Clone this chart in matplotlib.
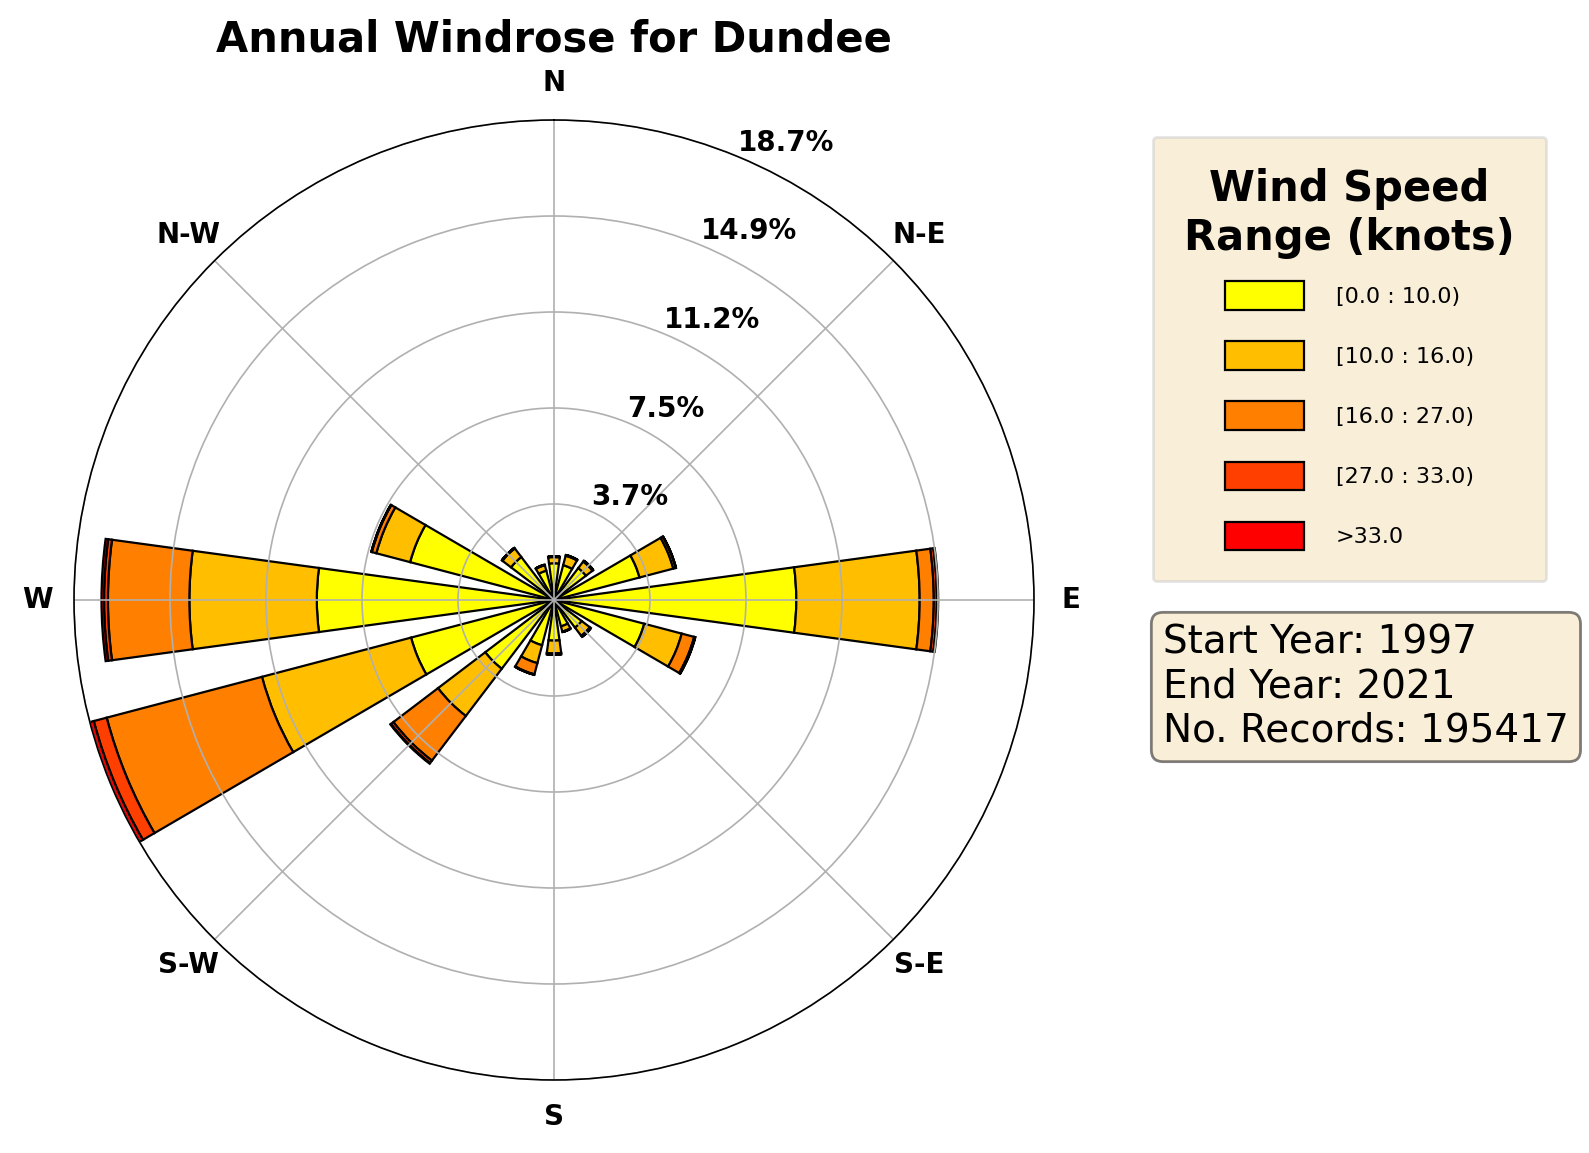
import numpy as np
import matplotlib
matplotlib.use("Agg")
import matplotlib.pyplot as plt

# wind direction sectors (compass degrees) and share of records (%) per speed bin
directions = ["N", "NNE", "NE", "ENE", "E", "ESE", "SE", "SSE",
              "S", "SSW", "SW", "WSW", "W", "WNW", "NW", "NNW"]
dir_deg = np.arange(16) * 22.5

bin_labels = ["[0.0 : 10.0)", "[10.0 : 16.0)", "[16.0 : 27.0)", "[27.0 : 33.0)", ">33.0"]

speed_0_10 = [1.43, 1.40, 1.56, 3.44, 9.43, 3.63, 1.35, 1.06,
              1.58, 1.82, 3.36, 5.75, 9.23, 5.79, 2.10, 1.18]
speed_10_16 = [0.24, 0.38, 0.32, 1.36, 4.80, 1.51, 0.40, 0.21,
               0.50, 0.72, 2.31, 6.00, 4.96, 1.36, 0.42, 0.22]
speed_16_27 = [0.03, 0.03, 0.04, 0.10, 0.55, 0.50, 0.05, 0.02,
               0.05, 0.45, 2.18, 6.25, 3.17, 0.18, 0.03, 0.02]
speed_27_33 = [0.00, 0.00, 0.00, 0.01, 0.12, 0.04, 0.00, 0.00,
               0.00, 0.02, 0.12, 0.52, 0.15, 0.02, 0.00, 0.00]
speed_33_up = [0.00, 0.00, 0.00, 0.00, 0.05, 0.01, 0.00, 0.00,
               0.00, 0.00, 0.03, 0.16, 0.10, 0.00, 0.00, 0.00]

start_year = 1997
end_year = 2021
n_records = 195417

table = np.array([speed_0_10, speed_10_16, speed_16_27, speed_27_33, speed_33_up])
colors = plt.cm.autumn_r(np.linspace(0, 1, len(bin_labels)))

fig = plt.figure(figsize=(1589 / 200, 1153 / 200), dpi=200)
ax = fig.add_axes([74 / 1589, 73 / 1153, 960 / 1589, 960 / 1153], projection="polar")
ax.set_theta_zero_location("N")
ax.set_theta_direction(-1)

theta = np.deg2rad(dir_deg)
width = np.deg2rad(22.5) * 0.69
bottom = np.zeros(len(directions))
for i in range(len(bin_labels)):
    ax.bar(theta, table[i], width=width, bottom=bottom, color=colors[i],
           edgecolor="black", linewidth=0.8, label=bin_labels[i], zorder=1)
    bottom += table[i]

rmax = table.sum(axis=0).max()
ax.set_ylim(0, rmax)
radii = np.linspace(0, rmax, 6)[1:]
ax.set_rgrids(radii, labels=["%.1f%%" % r for r in radii], angle=22.5,
              fontsize=10, fontweight="bold")
ax.set_thetagrids(np.arange(0, 360, 45),
                  labels=["N", "N-E", "E", "S-E", "S", "S-W", "W", "N-W"],
                  fontsize=10, fontweight="bold")
ax.tick_params(axis="x", pad=2.7)
ax.grid(True, color="#b0b0b0", linewidth=0.6)
ax.spines["polar"].set_linewidth(0.6)

fig.text(554 / 1589, 1 - 52 / 1153, "Annual Windrose for Dundee",
         ha="center", va="baseline", fontsize=15, fontweight="bold")

leg = ax.legend(loc="upper left", bbox_to_anchor=(1153 / 1589, 1 - 137 / 1153),
                bbox_transform=fig.transFigure, borderaxespad=0,
                title="Wind Speed\nRange (knots)",
                title_fontproperties={"size": 15, "weight": "bold"},
                fontsize=8, handlelength=3.56, handleheight=1.6,
                labelspacing=1.42, handletextpad=1.4, borderpad=1.4,
                facecolor="wheat", framealpha=0.5)
leg.get_title().set_multialignment("center")
leg._legend_box.sep = 8.1  # tighter gap between title and entries

fig.text(1163 / 1589, 1 - 624 / 1153,
         "Start Year: %d\nEnd Year: %d\nNo. Records: %d" % (start_year, end_year, n_records),
         ha="left", va="top", fontsize=14,
         bbox=dict(boxstyle="round", facecolor="wheat", alpha=0.5))

fig.savefig("out.png", dpi=200)
